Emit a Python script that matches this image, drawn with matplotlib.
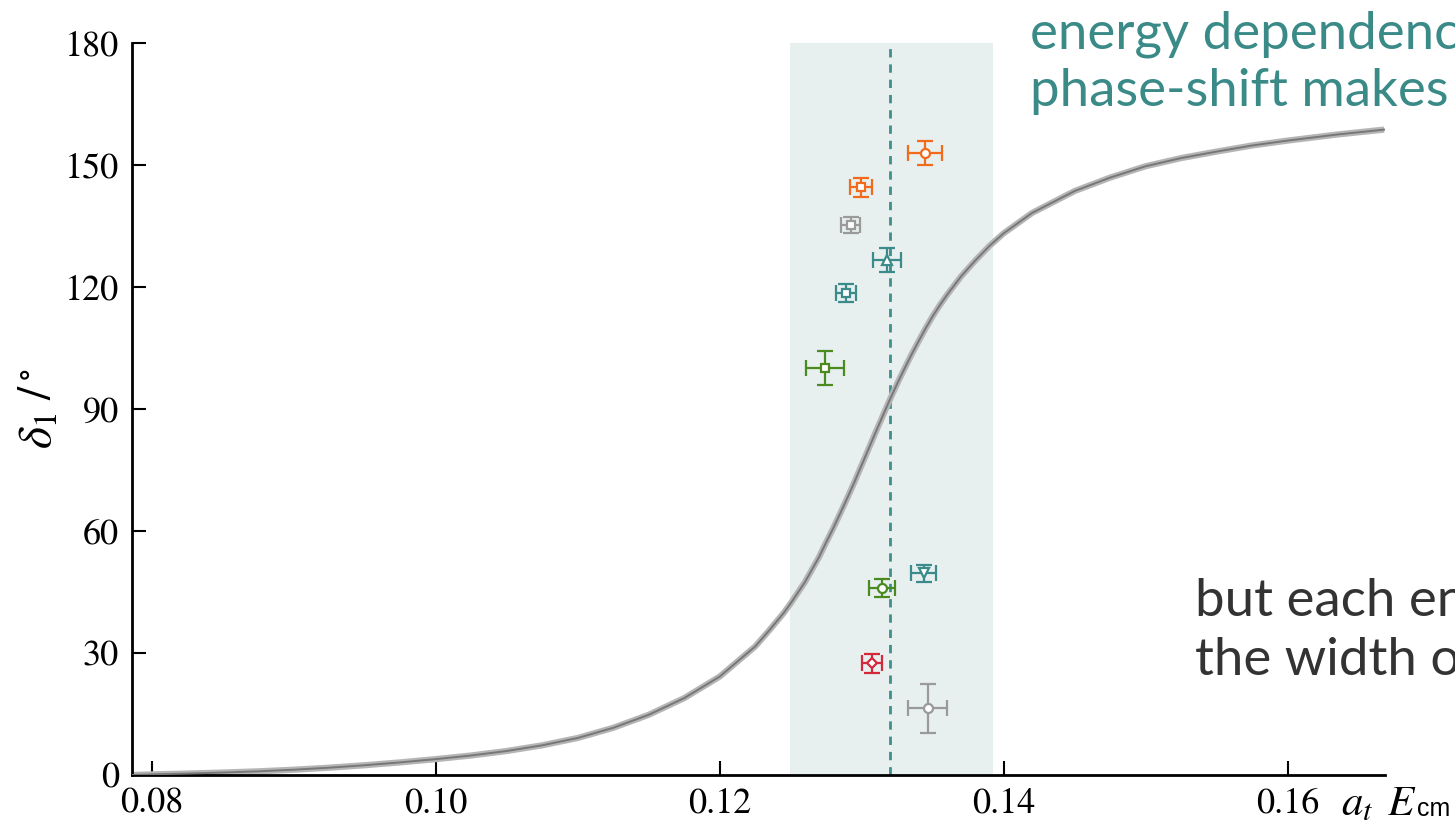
import matplotlib
matplotlib.use('Agg')
import matplotlib.pyplot as plt

plt.rcParams['font.family'] = 'STIXGeneral'
plt.rcParams['mathtext.fontset'] = 'stix'

# phase shift curve
curve_E = [0.0786, 0.0800, 0.0825, 0.0850, 0.0875, 0.0900, 0.0925, 0.0950, 0.0975,
           0.1000, 0.1025, 0.1050, 0.1075, 0.1100, 0.1125, 0.1150, 0.1175, 0.1200,
           0.1225, 0.1235, 0.1245, 0.1250, 0.1260, 0.1270, 0.1275, 0.1280, 0.1285,
           0.1290, 0.1295, 0.1300, 0.1305, 0.1310, 0.1315, 0.1320, 0.1325, 0.1330,
           0.1335, 0.1340, 0.1345, 0.1350, 0.1355, 0.1360, 0.1370, 0.1380, 0.1390,
           0.1400, 0.1420, 0.1450, 0.1475, 0.1500, 0.1525, 0.1550, 0.1575, 0.1600,
           0.1635, 0.1668]
curve_delta = [0.0, 0.15, 0.35, 0.6, 0.9, 1.3, 1.8, 2.4, 3.1,
               3.9, 4.8, 5.9, 7.3, 9.1, 11.6, 14.8, 18.9, 24.2,
               31.6, 35.6, 39.8, 42.2, 47.4, 53.6, 57.2, 60.7, 64.4,
               68.2, 72.1, 76.2, 80.3, 84.4, 88.4, 92.4, 96.2, 99.8,
               103.3, 106.6, 109.8, 112.8, 115.5, 118.0, 122.6, 126.5, 130.1,
               133.2, 138.2, 143.6, 146.9, 149.7, 151.7, 153.3, 154.8, 156.0,
               157.5, 158.7]

# individual energy levels
pt_E = [0.13444, 0.12998, 0.12923, 0.13178, 0.12892, 0.12739, 0.13439, 0.13143, 0.13075, 0.13467]
pt_delta = [152.9, 144.5, 135.2, 126.6, 118.6, 100.0, 49.6, 45.9, 27.5, 16.4]
pt_Eerr = [0.0012, 0.00077, 0.00067, 0.0010, 0.0007, 0.00134, 0.00088, 0.0009, 0.0007, 0.00137]
pt_derr = [3.0, 2.4, 2.0, 3.0, 2.2, 4.2, 2.1, 2.2, 2.3, 6.0]
pt_marker = ['o', 's', 's', '^', 's', 's', 'v', 'o', 'D', 'o']
pt_color = ['#f26b1d', '#f26b1d', '#9a9a9a', '#3b8b8b', '#3b8b8b', '#4b8a1e',
            '#3b8b8b', '#4b8a1e', '#d4293d', '#9a9a9a']

band_lo, band_hi = 0.12493, 0.13923
mass = 0.13197

fig = plt.figure(figsize=(14.55, 8.3), dpi=100)
ax = fig.add_axes([131.7 / 1455, 55 / 830, (1385 - 131.7) / 1455, 732 / 830])

ax.axvspan(band_lo, band_hi, color='#e7f0ef', lw=0, zorder=0)
ax.axvline(mass, color='#3f8f8c', lw=2, ls=(0, (3, 2.5)), zorder=1)

ax.plot(curve_E, curve_delta, color='#b5b5b5', lw=4.5, solid_capstyle='butt', zorder=2)
ax.plot(curve_E, curve_delta, color='#777777', lw=1.4, zorder=3)

for E, d, ex, ey, m, c in zip(pt_E, pt_delta, pt_Eerr, pt_derr, pt_marker, pt_color):
    ax.errorbar(E, d, xerr=ex, yerr=ey, fmt=m, color=c, mfc='white', mec=c,
                ms=6.5 if m in 'o^v' else 5.5, mew=1.6, elinewidth=1.6, capsize=6,
                capthick=1.6, zorder=4)

ax.set_xlim(0.07859, 0.16686)
ax.set_ylim(0, 180)
ax.set_xticks([0.08, 0.10, 0.12, 0.14, 0.16])
ax.set_xticklabels(['0.08', '0.10', '0.12', '0.14', '0.16'])
ax.set_yticks([0, 30, 60, 90, 120, 150, 180])
ax.tick_params(direction='in', length=10, width=1.5, labelsize=26, pad=9)
for s in ['top', 'right']:
    ax.spines[s].set_visible(False)
for s in ['left', 'bottom']:
    ax.spines[s].set_linewidth(2)
ax.set_ylabel(r'$\delta_1\;/^\circ$', fontsize=34)
ax.yaxis.set_label_coords(-0.056, 0.5)

# x axis label sits to the right of the last tick label
fig.text(1341 / 1455, 1 - 815 / 830, r'$a_t$', fontsize=31, va='baseline')
fig.text(1387 / 1455, 1 - 815 / 830, r'$E$', fontsize=31, va='baseline')
fig.text(1417 / 1455, 1 - 816 / 830, 'cm', family='Liberation Sans', fontsize=18,
         va='baseline')

fig.text(1030 / 1455, 1 - 48 / 830, 'energy dependence of the',
         family='Lato', fontsize=38, color='#3a8a88', va='baseline')
fig.text(1030 / 1455, 1 - 106 / 830, 'phase-shift makes',
         family='Lato', fontsize=38, color='#3a8a88', va='baseline')
fig.text(1195 / 1455, 1 - 615 / 830, 'but each energy level',
         family='Lato', fontsize=38, color='#333333', va='baseline')
fig.text(1195 / 1455, 1 - 675 / 830, 'the width of',
         family='Lato', fontsize=38, color='#333333', va='baseline')

fig.savefig('out.png', dpi=100)
